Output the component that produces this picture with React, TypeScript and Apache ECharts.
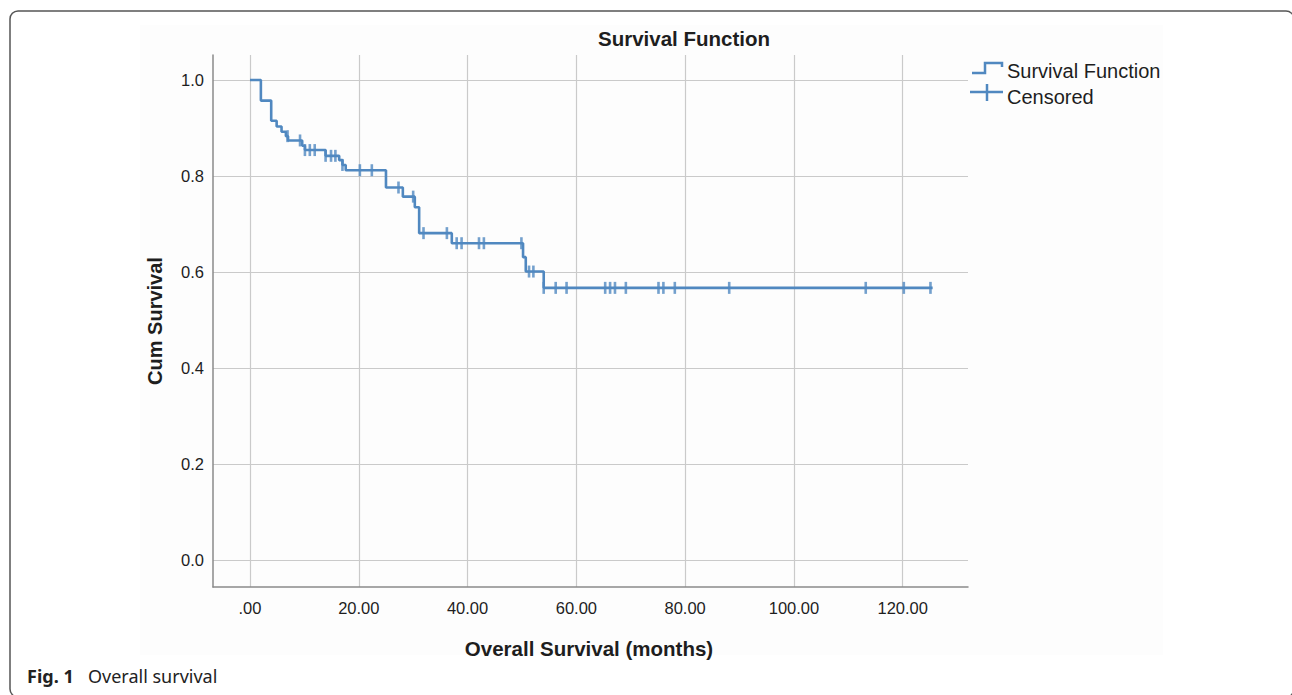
import React, { useEffect, useRef } from "react";
import * as echarts from "echarts";

// Kaplan-Meier steps: time (months) at which survival drops, and survival after the drop
const eventTimes = [0, 2.0, 3.9, 4.9, 5.8, 6.6, 7.0, 9.6, 10.1, 13.9, 16.4, 17.0, 17.6, 25.0, 28.1, 30.3, 31.1, 37.1, 50.2, 50.7, 54.0];
const eventSurvival = [1.0, 0.957, 0.915, 0.903, 0.892, 0.883, 0.874, 0.863, 0.854, 0.842, 0.833, 0.823, 0.812, 0.776, 0.757, 0.735, 0.681, 0.66, 0.631, 0.601, 0.567];
const endTime = 125.5;

// censored observations (months)
const censorTimes = [6.9, 9.2, 10.1, 11.0, 11.9, 13.9, 14.9, 15.7, 17.0, 20.2, 22.4, 27.3, 30.0, 31.9, 36.2, 38.0, 38.9, 42.1, 43.0, 49.9, 51.3, 52.1, 54.0, 56.2, 58.2, 65.3, 66.2, 67.1, 69.1, 75.1, 76.0, 78.1, 88.1, 113.2, 120.2, 125.1];

const xTicks = [0, 20, 40, 60, 80, 100, 120];
const yTicks = [0, 0.2, 0.4, 0.6, 0.8, 1.0];

const LINE = "#5088c0";
const GRID = "#cacaca";
const AXIS = "#8a8a8a";
const TXT = "#1e1e1e";

function survivalAt(t: number): number {
  let s = 1;
  for (let i = 0; i < eventTimes.length; i++) if (eventTimes[i] <= t) s = eventSurvival[i];
  return s;
}

export default function App() {
  const ref = useRef<HTMLDivElement>(null);
  useEffect(() => {
    if (!ref.current) return;
    const chart = echarts.init(ref.current, undefined, { renderer: "svg" });

    const stepPts: number[][] = [];
    for (let i = 0; i < eventTimes.length; i++) {
      if (i > 0) stepPts.push([eventTimes[i], eventSurvival[i - 1]]);
      stepPts.push([eventTimes[i], eventSurvival[i]]);
    }
    stepPts.push([endTime, eventSurvival[eventSurvival.length - 1]]);
    const censorPts = censorTimes.map((t) => [t, survivalAt(t)]);

    const sans = "'Liberation Sans', Arial, sans-serif";
    const center = {
      textAlign: "center",
      textVerticalAlign: "middle",
      align: "center",
      verticalAlign: "middle",
    };
    const leftMid = {
      textAlign: "left",
      textVerticalAlign: "middle",
      align: "left",
      verticalAlign: "middle",
    };

    chart.setOption({
      animation: false,
      backgroundColor: "#ffffff",
      grid: { left: 213, right: 324, top: 55, bottom: 108, containLabel: false },
      xAxis: {
        type: "value",
        min: -6.8,
        max: 132,
        axisLine: { show: true, onZero: false, lineStyle: { color: AXIS, width: 1.5 } },
        axisTick: { show: false },
        splitLine: { show: false },
        axisLabel: {
          customValues: xTicks,
          color: TXT,
          fontFamily: sans,
          fontSize: 16.5,
          margin: 12,
          formatter: (v: number) => (v === 0 ? ".00" : v.toFixed(2)),
        },
      },
      yAxis: {
        type: "value",
        min: -0.056,
        max: 1.052,
        axisLine: { show: true, onZero: false, lineStyle: { color: AXIS, width: 1.5 } },
        axisTick: { show: false },
        splitLine: { show: false },
        axisLabel: {
          customValues: yTicks,
          color: TXT,
          fontFamily: sans,
          fontSize: 16.5,
          margin: 9,
          formatter: (v: number) => v.toFixed(1),
        },
      },
      series: [
        {
          type: "line",
          data: [],
          silent: true,
          z: 0,
          markLine: {
            silent: true,
            z: 0,
            symbol: ["none", "none"],
            label: { show: false },
            lineStyle: { color: GRID, type: "solid", width: 1.2 },
            data: [
              ...xTicks.map((v) => ({ xAxis: v })),
              ...yTicks.map((v) => ({ yAxis: v })),
            ],
          },
        },
        {
          name: "Survival Function",
          type: "line",
          data: stepPts,
          showSymbol: false,
          symbol: "none",
          clip: false,
          z: 10,
          lineStyle: { color: LINE, width: 2.6 },
        },
        {
          name: "Censored",
          type: "scatter",
          data: censorPts,
          symbol: "rect",
          symbolSize: [2.6, 12],
          z: 11,
          itemStyle: { color: LINE },
        },
      ],
      graphic: [
        {
          type: "rect",
          z: -10,
          shape: { x: 140, y: 25, width: 1023, height: 630 },
          style: { fill: "#fdfdfd" },
          silent: true,
        },
        {
          type: "rect",
          z: 100,
          shape: { x: 10, y: 11, width: 1284, height: 686, r: 8 },
          style: { fill: "none", stroke: "#555555", lineWidth: 1.5 },
          silent: true,
        },
        {
          type: "text",
          x: 684,
          y: 38,
          style: { text: "Survival Function", font: `bold 20.5px ${sans}`, fill: TXT, ...center },
        },
        {
          type: "text",
          x: 155,
          y: 321,
          rotation: Math.PI / 2,
          style: { text: "Cum Survival", font: `bold 20px ${sans}`, fill: TXT, ...center },
        },
        {
          type: "text",
          x: 589,
          y: 648,
          style: { text: "Overall Survival (months)", font: `bold 20.5px ${sans}`, fill: TXT, ...center },
        },
        // legend
        {
          type: "polyline",
          shape: { points: [[972, 73], [985, 73], [985, 63], [1002, 63], [1002, 67]] },
          style: { stroke: LINE, lineWidth: 2.5, fill: "none" },
        },
        {
          type: "line",
          shape: { x1: 970, y1: 92, x2: 1003, y2: 92 },
          style: { stroke: LINE, lineWidth: 2.5 },
        },
        {
          type: "line",
          shape: { x1: 987, y1: 84, x2: 987, y2: 101 },
          style: { stroke: LINE, lineWidth: 2.5 },
        },
        {
          type: "text",
          x: 1007,
          y: 71,
          style: { text: "Survival Function", font: `20px ${sans}`, fill: TXT, ...leftMid },
        },
        {
          type: "text",
          x: 1007,
          y: 97,
          style: { text: "Censored", font: `20px ${sans}`, fill: TXT, ...leftMid },
        },
        // caption
        {
          type: "text",
          x: 27,
          y: 676,
          style: {
            text: "Fig. 1",
            font: "bold 18px 'Noto Sans', 'Open Sans', sans-serif",
            fill: "#222222",
            ...leftMid,
          },
        },
        {
          type: "text",
          x: 88,
          y: 676,
          style: {
            text: "Overall survival",
            font: "18px 'Noto Sans', 'Open Sans', sans-serif",
            fill: "#222222",
            ...leftMid,
          },
        },
      ],
    });
    return () => chart.dispose();
  }, []);

  return (
    <div
      ref={ref}
      style={{ position: "absolute", left: 0, top: 0, width: 1292, height: 695, background: "#fff" }}
    />
  );
}
